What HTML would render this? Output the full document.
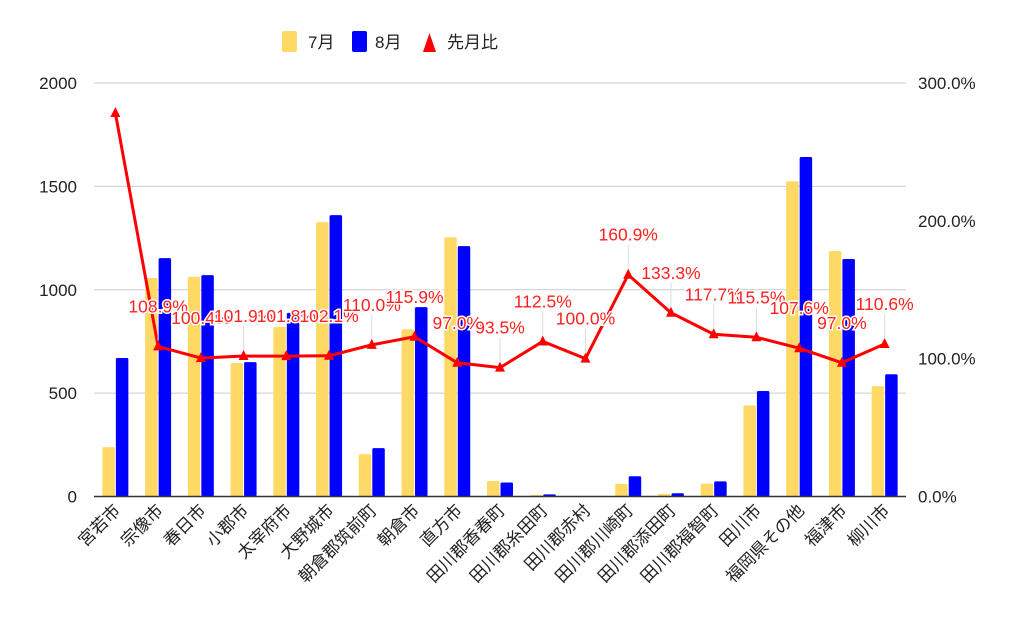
<!DOCTYPE html>
<html><head><meta charset="utf-8">
<style>
body{margin:0;background:#fff;}
svg text{font-family:"Liberation Sans","Noto Sans CJK JP",sans-serif;}
</style></head>
<body>
<svg id="chart" width="1024" height="633" xmlns="http://www.w3.org/2000/svg">
<g id="legend">
<rect x="282" y="31" width="15" height="21" rx="2" fill="#ffd966"/>
<text x="308" y="48" font-size="17" fill="#222">7月</text>
<rect x="352" y="31" width="15" height="21" rx="2" fill="#0000ff"/>
<text x="375" y="48" font-size="17" fill="#222">8月</text>
<polygon points="423,52 429.5,33 436,52" fill="#ff0000"/>
<text x="447" y="48" font-size="17" fill="#222">先月比</text>
</g>
<g id="grid"></g><g id="bars"></g><g id="line"></g><g id="labels"></g><g id="axes"></g>
</svg>
<script>
const categories=["宮若市","宗像市","春日市","小郡市","太宰府市","大野城市","朝倉郡筑前町","朝倉市","直方市","田川郡香春町","田川郡糸田町","田川郡赤村","田川郡川崎町","田川郡添田町","田川郡福智町","田川市","福岡県その他","福津市","柳川市"];
const july=[239,1057,1063,646,820,1327,205,809,1254,75,7,0,61,12,62,441,1525,1187,534];
const august=[670,1153,1071,650,888,1361,234,916,1211,68,10,0,98,16,73,510,1642,1149,591];
const ratio=[278.2,108.9,100.4,101.9,101.8,102.1,110.0,115.9,97.0,93.5,112.5,100.0,160.9,133.3,117.7,115.5,107.6,97.0,110.6];
const ratioLabels=["","108.9%","100.4%","101.9%","101.8%","102.1%","110.0%","115.9%","97.0%","93.5%","112.5%","100.0%","160.9%","133.3%","117.7%","115.5%","107.6%","97.0%","110.6%"];
const leftTicks=[0,500,1000,1500,2000];
const rightTicks=[0,100,200,300];
const rightTickLabels=["0.0%","100.0%","200.0%","300.0%"];

const NS="http://www.w3.org/2000/svg";
const X0=94,X1=906,Y0=496.5,Y1=83;
const step=(X1-X0)/categories.length;
const xc=i=>X0+step*(i+0.5);
const yL=v=>Y0-(v/2000)*(Y0-Y1);
const yR=v=>Y0-(v/300)*(Y0-Y1);
function mk(tag,attrs,parent,txt){const e=document.createElementNS(NS,tag);for(const k in attrs)e.setAttribute(k,attrs[k]);if(txt!==undefined)e.textContent=txt;parent.appendChild(e);return e;}
const grid=document.getElementById('grid'),bars=document.getElementById('bars'),line=document.getElementById('line'),labels=document.getElementById('labels'),axes=document.getElementById('axes');

leftTicks.forEach((t,i)=>{
  if(t>0){const g=mk('line',{x1:X0,x2:X1,y1:yL(t),y2:yL(t),stroke:'#cccccc','stroke-width':1},grid);
  
  }
  const l=mk('text',{x:77,y:yL(t)+6,'text-anchor':'end','font-size':17,fill:'#222'},axes,String(t));
  
  
});
rightTicks.forEach((t,i)=>{
  const l=mk('text',{x:918,y:yR(t)+6,'font-size':17,fill:'#222'},axes,rightTickLabels[i]);
  
  
});
const bw=12.5;
categories.forEach((c,i)=>{
  const x=xc(i);
  if(july[i]>0){const b=mk('rect',{x:x-bw-0.5,y:yL(july[i]),width:bw,height:Y0-yL(july[i]),rx:1.5,fill:'#ffd966'},bars);
  
  }
  if(august[i]>0){const b=mk('rect',{x:x+0.5,y:yL(august[i]),width:bw,height:Y0-yL(august[i]),rx:1.5,fill:'#0000ff'},bars);
  
  }
  const t=mk('text',{transform:`translate(${x+6},${Y0+15}) rotate(-45)`,'text-anchor':'end','font-size':17,fill:'#222'},axes,c);
  
  
});
const ax=mk('line',{x1:X0,x2:X1,y1:Y0,y2:Y0,stroke:'#333','stroke-width':1.5},axes);


const pts=ratio.map((v,i)=>xc(i)+','+yR(v)).join(' ');
const pl=mk('polyline',{points:pts,fill:'none',stroke:'#ff0000','stroke-width':3,'stroke-linejoin':'round'},line);


ratio.forEach((v,i)=>{
  const x=xc(i),y=yR(v);
  const m=mk('polygon',{points:`${x-5},${y+4} ${x},${y-6} ${x+5},${y+4}`,fill:'#ff0000'},line);
  
  
  if(ratioLabels[i]){
    const ld=mk('line',{x1:x,x2:x,y1:y-6,y2:y-30,stroke:'#dddddd','stroke-width':1},labels);
    
    
    const t=mk('text',{x:x,y:y-34,'text-anchor':'middle','font-size':17.5,fill:'#ff2020',stroke:'#fff','stroke-width':3,'paint-order':'stroke'},labels,ratioLabels[i]);
    
    
  }
});
</script>
</body></html>
